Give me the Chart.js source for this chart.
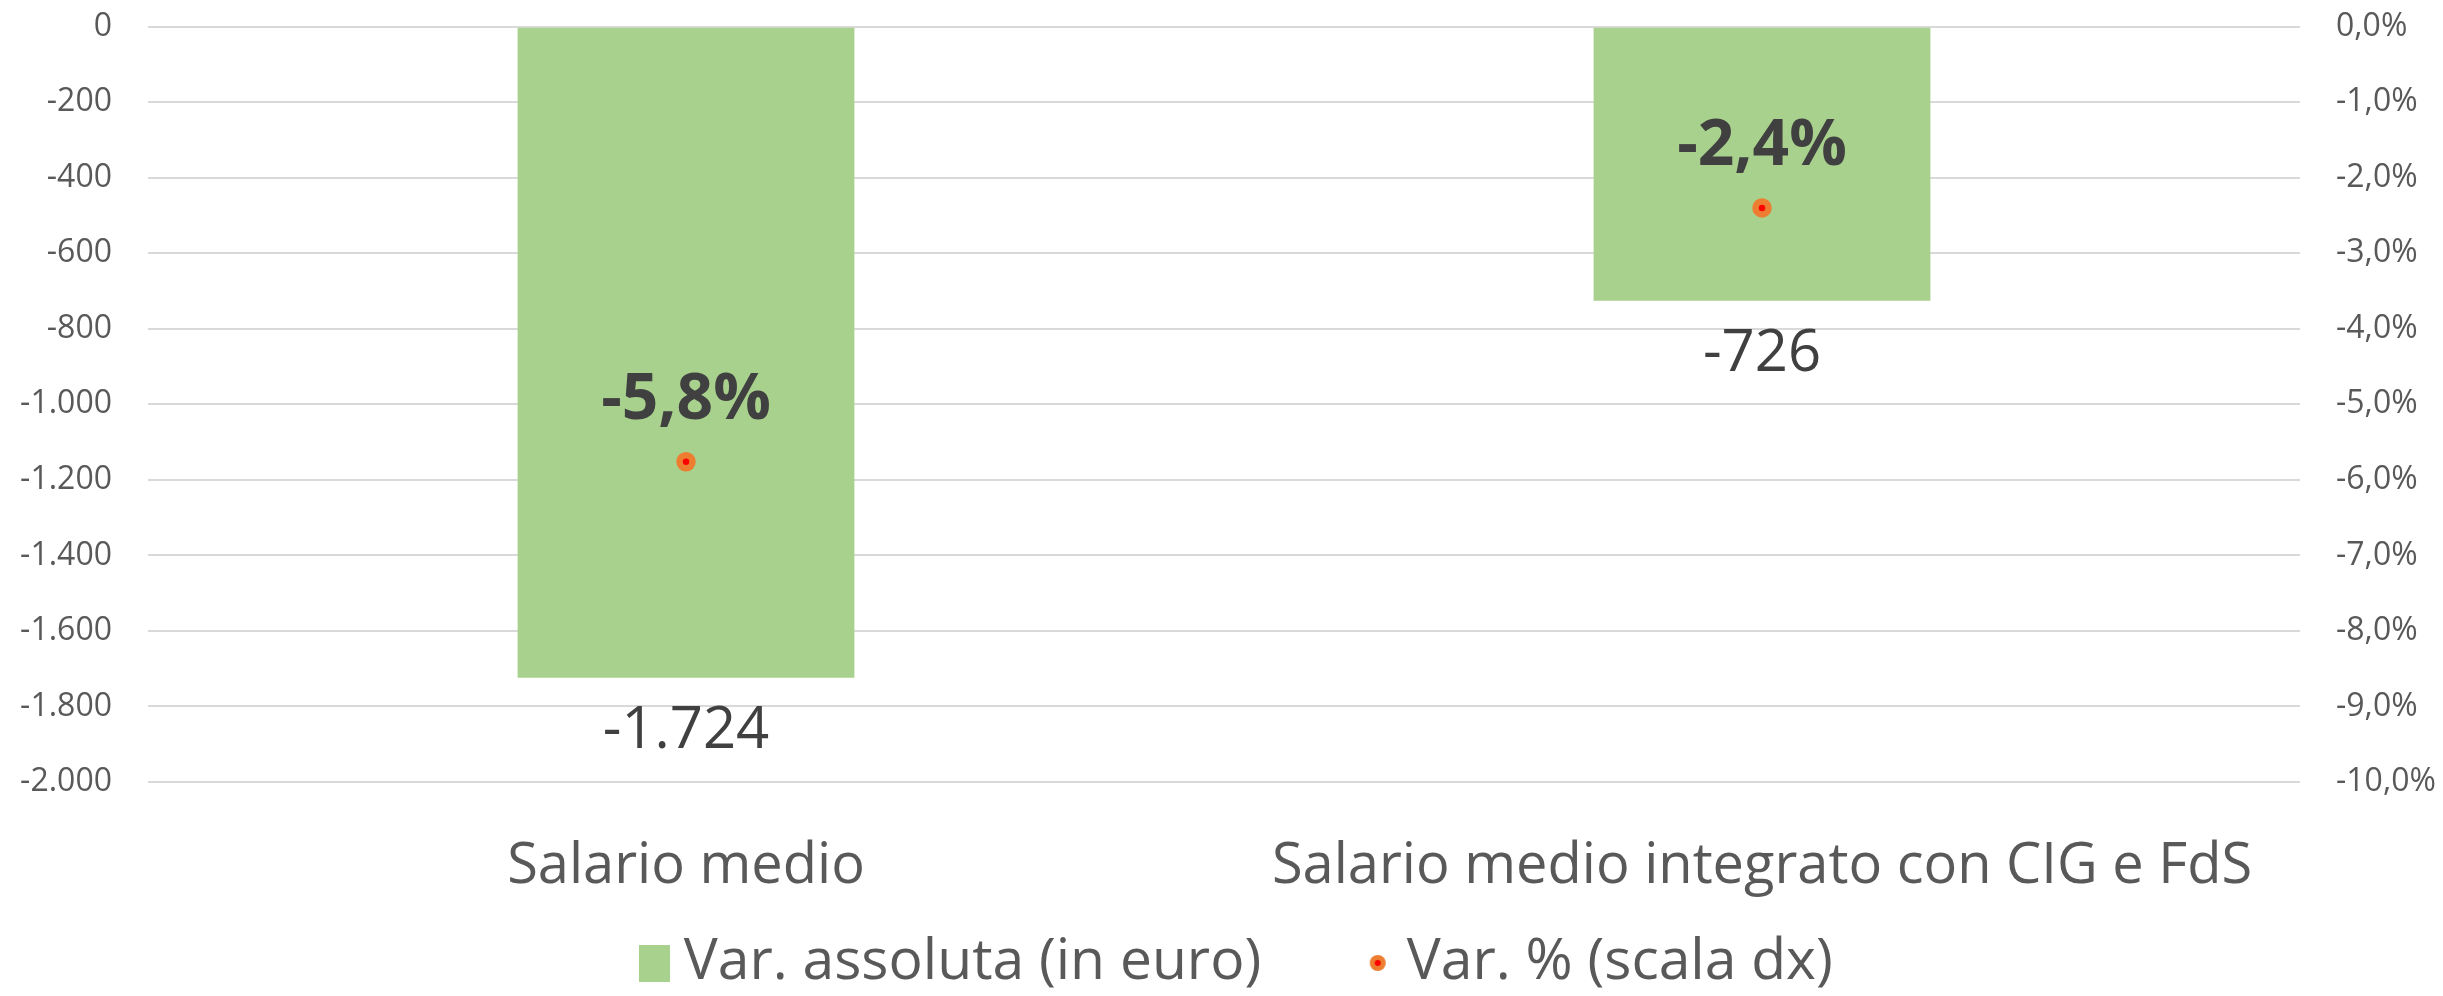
<!DOCTYPE html>
<html lang="it">
<head>
<meta charset="utf-8">
<title>Variazione del salario medio</title>
<script src="https://cdn.jsdelivr.net/npm/chart.js@4.4.1/dist/chart.umd.min.js"></script>
<style>
  html, body { margin: 0; padding: 0; background: #ffffff; }
  canvas { display: block; }
</style>
</head>
<body>
<canvas id="grafico" width="2443" height="996"></canvas>
<script>
// Dati
const categorie = ['Salario medio', 'Salario medio integrato con CIG e FdS'];
const varAssoluta = [-1724, -726];
const varPercentuale = [-5.76, -2.4];
const tickSinistra = [0, -200, -400, -600, -800, -1000, -1200, -1400, -1600, -1800, -2000];
const tickDestra = [0, -1, -2, -3, -4, -5, -6, -7, -8, -9, -10];
const legendaTesti = ['Var. assoluta (in euro)', 'Var. % (scala dx)'];

// Colori (stile Excel)
const colori = {
  barra: '#A9D18E',
  puntoBordo: '#ED7D31',
  puntoCentro: '#FF0000',
  testo: '#595959',
  etichetta: '#404040',
  griglia: '#D9D9D9'
};
const FONT = '"Open Sans", "Noto Sans", sans-serif';

// 1724 -> "1.724"
function formatEuro(v) {
  const s = Math.abs(Math.round(v)).toString().replace(/\B(?=(\d{3})+(?!\d))/g, '.');
  return (v < 0 ? '-' : '') + s;
}

// -5.76 -> "-5,8%"
function formatPerc(v) {
  return v.toFixed(1).replace('.', ',') + '%';
}

// simboli della legenda disegnati su canvas fuori schermo
function quadratino() {
  const c = document.createElement('canvas');
  c.width = 31; c.height = 37;
  const g = c.getContext('2d');
  g.fillStyle = colori.barra;
  g.fillRect(0, 0, 31, 37);
  return c;
}

function pallino() {
  const c = document.createElement('canvas');
  c.width = 18; c.height = 18;
  const g = c.getContext('2d');
  g.fillStyle = colori.puntoBordo;
  g.beginPath(); g.arc(9, 9, 8, 0, Math.PI * 2); g.fill();
  g.fillStyle = colori.puntoCentro;
  g.beginPath(); g.arc(9, 9, 3, 0, Math.PI * 2); g.fill();
  return c;
}

// etichette sui dati: valore sotto la barra, percentuale sopra il punto
const etichetteDati = {
  id: 'etichetteDati',
  afterDatasetsDraw(chart) {
    const ctx = chart.ctx;
    ctx.save();
    ctx.textAlign = 'center';
    ctx.textBaseline = 'middle';
    ctx.fillStyle = colori.etichetta;

    ctx.font = '58px ' + FONT;
    chart.getDatasetMeta(0).data.forEach((bar, i) => {
      ctx.fillText(formatEuro(varAssoluta[i]), bar.x, bar.y + 54);
    });

    ctx.font = 'bold 64px ' + FONT;
    chart.getDatasetMeta(1).data.forEach((pt, i) => {
      ctx.fillText(formatPerc(varPercentuale[i]), pt.x, pt.y - 61);
    });
    ctx.restore();
  }
};

// la legenda usa un padding largo tra le voci: la si alza dopo il layout
// perche' la riga resti centrata a y = 963 senza rubare spazio al grafico,
// e la si sposta un poco a destra come nell'originale
const spostaLegenda = {
  id: 'spostaLegenda',
  afterLayout(chart) {
    const lg = chart.legend;
    if (!lg) return;
    const pad = lg.options.labels.padding;
    const size = lg.options.labels.font.size;
    lg.top = 963 - pad - size / 2;
    lg.height = lg.bottom - lg.top;
    lg.left += 22;
    lg.right += 22;
  }
};

const simboli = [quadratino(), pallino()];

new Chart(document.getElementById('grafico'), {
  data: {
    labels: categorie,
    datasets: [
      {
        type: 'bar',
        label: legendaTesti[0],
        data: varAssoluta,
        backgroundColor: colori.barra,
        borderWidth: 0,
        yAxisID: 'y',
        categoryPercentage: 1,
        barPercentage: 0.313,
        order: 2
      },
      {
        type: 'line',
        label: legendaTesti[1],
        data: varPercentuale,
        showLine: false,
        yAxisID: 'y1',
        pointRadius: 6.5,
        pointBorderWidth: 6.5,
        pointBackgroundColor: colori.puntoCentro,
        pointBorderColor: colori.puntoBordo,
        order: 1
      }
    ]
  },
  options: {
    responsive: false,
    animation: false,
    events: [],
    layout: { padding: { top: 26.7, left: 0, right: 0, bottom: 0 } },
    plugins: {
      tooltip: { enabled: false },
      legend: {
        position: 'bottom',
        maxHeight: 89,
        labels: {
          usePointStyle: true,
          pointStyleWidth: 1,
          padding: 116,
          color: colori.testo,
          font: { family: FONT, size: 57 },
          generateLabels: () => legendaTesti.map((t, i) => ({
            text: t,
            pointStyle: simboli[i],
            fillStyle: 'transparent',
            strokeStyle: 'transparent',
            lineWidth: 0,
            fontColor: colori.testo,
            hidden: false,
            datasetIndex: i
          }))
        }
      }
    },
    scales: {
      x: {
        offset: true,
        grid: { display: false },
        border: { display: false },
        ticks: {
          color: colori.testo,
          font: { family: FONT, size: 56 },
          padding: 43,
          maxRotation: 0,
          autoSkip: false
        },
        afterFit: (scale) => { scale.height = 125; }
      },
      y: {
        position: 'left',
        min: -2000,
        max: 0,
        afterBuildTicks: (scale) => { scale.ticks = tickSinistra.map(v => ({ value: v })); },
        grid: { color: colori.griglia, lineWidth: 2, drawTicks: false },
        border: { display: false },
        ticks: {
          color: colori.testo,
          font: { family: FONT, size: 32 },
          padding: 36,
          callback: (v) => formatEuro(v)
        },
        afterFit: (scale) => {
          scale.width = 148;
          scale.paddingTop = 0;
          scale.paddingBottom = 0;
        }
      },
      y1: {
        position: 'right',
        min: -10,
        max: 0,
        afterBuildTicks: (scale) => { scale.ticks = tickDestra.map(v => ({ value: v })); },
        grid: { display: false, drawTicks: false },
        border: { display: false },
        ticks: {
          color: colori.testo,
          font: { family: FONT, size: 32 },
          padding: 36,
          callback: (v) => formatPerc(v)
        },
        afterFit: (scale) => {
          scale.width = 143;
          scale.paddingTop = 0;
          scale.paddingBottom = 0;
        }
      }
    }
  },
  plugins: [etichetteDati, spostaLegenda]
});
</script>
</body>
</html>
